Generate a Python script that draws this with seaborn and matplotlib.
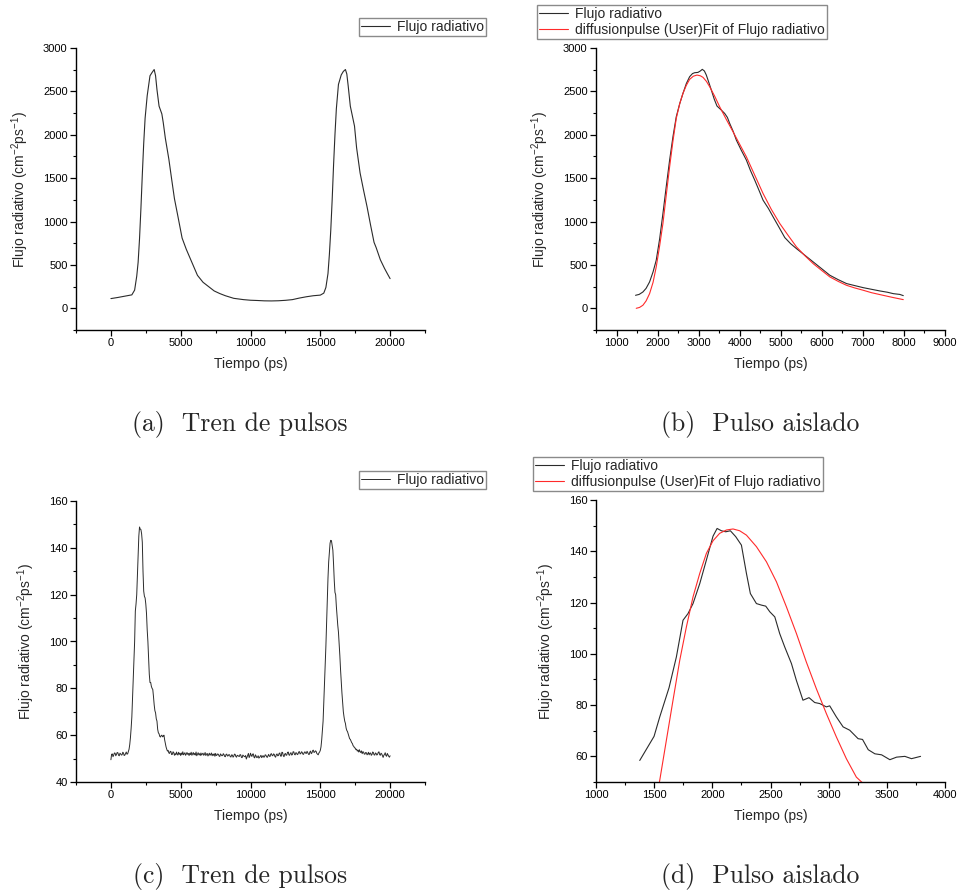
import matplotlib
matplotlib.use("Agg")
import numpy as np
import pandas as pd
import matplotlib.pyplot as plt
import seaborn as sns
from matplotlib.ticker import MultipleLocator

# ---------------- data ----------------
# (a) pulse train, full simulation
a_t = [0, 500, 1000, 1500, 1700, 1850, 1950, 2050, 2150, 2250, 2350, 2450, 2600,
       2800, 2950, 3100, 3200, 3300, 3450, 3650, 3750, 3900, 4150, 4350, 4550,
       4800, 5100, 5400, 5800, 6200, 6600, 7000, 7400, 7800, 8200, 8800, 9500,
       10000, 10500, 11000, 11500, 12000, 12500, 13000, 13500, 14000, 14500,
       15000, 15250, 15400, 15550, 15650, 15750, 15850, 15950, 16050, 16150,
       16300, 16500, 16650, 16800, 16900, 17000, 17150, 17450, 17600, 17850,
       18100, 18350, 18600, 18850, 19000, 19300, 19600, 19800, 20000]
a_flux = [112, 125, 140, 155, 210, 370, 530, 800, 1150, 1540, 1900, 2190, 2450,
          2680, 2718, 2752, 2680, 2520, 2330, 2240, 2140, 1960, 1720, 1490, 1265,
          1060, 810, 680, 530, 380, 300, 250, 200, 170, 145, 115, 100,
          93, 90, 86, 85, 87, 92, 100, 118, 133, 145,
          152, 175, 240, 400, 620, 900, 1250, 1650, 2000, 2300,
          2580, 2690, 2730, 2752, 2700, 2560, 2330, 2100, 1850, 1560,
          1360, 1170, 960, 760, 700, 560, 460, 400, 342]

# (b) isolated pulse + fit
b_t = [1463, 1550, 1642, 1720, 1805, 1890, 1967, 2050, 2130, 2210, 2293, 2375,
       2455, 2540, 2618, 2700, 2780, 2850, 2902, 2984, 3040, 3089, 3140, 3187,
       3250, 3309, 3380, 3447, 3540, 3634, 3700, 3756, 3840, 3919, 4040, 4163,
       4260, 4366, 4470, 4569, 4700, 4813, 4950, 5098, 5240, 5382, 5590, 5789,
       6000, 6195, 6400, 6602, 6800, 7008, 7200, 7415, 7600, 7740, 7900, 7984]
b_flux = [150, 160, 188, 230, 304, 420, 554, 800, 1092, 1400, 1708, 1980,
          2208, 2360, 2477, 2590, 2669, 2705, 2715, 2719, 2735, 2754, 2735, 2688,
          2600, 2515, 2410, 2331, 2290, 2246, 2200, 2131, 2040, 1938, 1820, 1708,
          1590, 1477, 1360, 1246, 1150, 1054, 940, 815, 745, 688, 610, 535,
          455, 381, 330, 285, 262, 238, 220, 200, 185, 169, 160, 146]
fit_b_t = [1480, 1560, 1642, 1720, 1805, 1890, 1967, 2050, 2130, 2210, 2293, 2375,
           2455, 2540, 2618, 2700, 2780, 2870, 2959, 3040, 3106, 3190, 3268, 3390,
           3512, 3670, 3837, 4000, 4163, 4370, 4569, 4770, 4976, 5180, 5382, 5590,
           5789, 6000, 6195, 6400, 6602, 6800, 7008, 7210, 7415, 7700, 7984]
fit_b_flux = [0, 10, 35, 85, 169, 300, 477, 720, 977, 1300, 1631, 1930,
              2189, 2360, 2477, 2570, 2638, 2675, 2688, 2680, 2662, 2615, 2554, 2445,
              2323, 2180, 2035, 1890, 1746, 1530, 1323, 1140, 977, 840, 708, 605,
              515, 435, 362, 310, 265, 235, 208, 180, 158, 128, 100]

# (c) pulse train, second run (50 ps sampling)
c_t = list(range(0, 20001, 50))
c_flux = [
    # 0 - 1300
    49.5, 51.8, 52.0, 50.8, 51.5, 52.4, 52.3, 51.2, 51.8, 52.6,
    52.5, 51.4, 51.2, 52.3, 52.0, 51.5, 51.6, 52.7, 52.4, 51.3,
    51.5, 52.2, 52.8, 51.9, 52.0, 53.0, 54.0,
    # 1350 - 4450 (first pulse)
    56.0, 59.0, 63.0, 67.8, 75.5, 83.0, 92.0, 100.0, 113.0, 116.0,
    120.0, 128.0, 136.6, 145.0, 148.9, 148.0, 147.8, 146.0, 142.4, 130.0,
    121.5, 119.3, 118.6, 116.0, 112.0, 105.0, 100.0, 93.0, 86.0, 82.5,
    82.5, 80.8, 80.0, 79.5, 76.5, 73.0, 70.5, 69.5, 67.0, 66.0,
    62.5, 61.0, 60.6, 59.5, 59.2, 59.8, 60.0, 59.3, 59.6, 60.0,
    58.0, 56.5, 55.0, 54.0, 53.2, 53.5, 52.4, 52.2, 53.1, 53.0,
    51.7, 51.8, 52.9,
    # 4500 - 14950 (baseline)
    52.6, 51.4, 52.1, 51.6, 52.8, 51.9, 51.5, 52.7, 51.8, 52.3,
    51.3, 52.4, 51.7, 52.9, 51.6, 52.0, 52.5, 51.4, 51.9, 52.6,
    51.8, 52.2, 51.3, 52.3, 51.7, 52.7, 51.4, 52.0, 52.6, 51.6,
    52.2, 51.5, 52.8, 51.2, 51.9, 52.5, 51.6, 52.1, 51.3, 52.4,
    51.5, 52.0, 52.3, 51.4, 51.8, 52.6, 51.3, 51.9, 52.2, 51.1,
    51.6, 52.3, 51.4, 51.8, 52.4, 51.2, 51.9, 51.4, 52.1, 51.0,
    52.2, 51.3, 51.5, 52.0, 51.8, 51.1, 50.9, 52.0, 51.6, 51.2,
    51.3, 52.1, 51.7, 50.9, 50.8, 51.8, 51.9, 51.1, 51.2, 51.7,
    51.6, 50.8, 50.7, 51.6, 51.5, 50.6, 51.0, 51.9, 51.8, 50.9,
    50.6, 51.4, 51.3, 51.0, 50.9, 51.7, 51.6, 50.5, 50.4, 51.5,
    51.2, 50.9, 50.8, 51.3, 49.8, 50.6, 51.5, 52.2, 50.5, 51.0,
    52.3, 51.4, 50.9, 51.9, 52.0, 50.6, 50.3, 51.6, 51.1, 50.4,
    50.6, 51.2, 50.2, 50.5, 51.0, 51.4, 50.4, 50.8, 51.3, 50.6,
    50.7, 51.6, 51.5, 50.8, 50.5, 51.2, 51.8, 51.0, 50.9, 51.9,
    52.1, 51.3, 51.2, 52.0, 51.8, 50.9, 50.6, 51.7, 52.0, 51.2,
    51.3, 52.2, 52.4, 51.1, 51.0, 52.7, 52.6, 51.2, 50.8, 51.9,
    52.2, 51.4, 51.5, 52.6, 52.8, 51.6, 51.4, 52.3, 52.5, 51.5,
    51.7, 52.9, 52.9, 51.8, 51.6, 52.5, 52.4, 51.7, 51.9, 52.8,
    53.0, 52.0, 52.1, 52.9, 52.7, 51.9, 51.8, 52.6, 52.9, 52.3,
    52.2, 53.1, 52.6, 51.9, 51.7, 52.8, 53.2, 52.1, 52.4, 53.4,
    53.6, 52.6, 52.8, 53.3, 53.1, 52.2, 51.9, 51.6, 52.4, 52.8,
    # 15000 - 17450 (second pulse)
    53.5, 55.0, 58.0, 62.0, 66.0, 74.0, 82.0, 90.0, 98.0, 108.0,
    118.0, 127.0, 134.0, 138.0, 142.0, 143.2, 143.0, 141.0, 139.0, 133.0,
    126.0, 121.0, 120.0, 115.0, 111.0, 107.0, 104.0, 99.0, 94.0, 88.0,
    83.0, 78.0, 74.0, 70.0, 67.8, 66.0, 65.0, 63.0, 62.0, 61.5,
    60.5, 59.5, 58.5, 58.2, 57.5, 56.8, 56.4, 55.5, 55.2, 54.6,
    # 17500 - 20000
    54.5, 53.8, 54.0, 53.2, 53.6, 52.8, 53.8, 52.9, 52.6, 53.3,
    52.1, 52.9, 52.8, 51.9, 51.9, 52.6, 52.5, 51.6, 52.0, 52.7,
    51.6, 52.3, 52.4, 51.4, 51.7, 52.8, 52.6, 51.6, 51.5, 52.4,
    52.2, 51.5, 51.8, 52.6, 52.9, 51.7, 51.4, 52.3, 52.0, 51.2,
    50.5, 51.4, 51.8, 52.5, 51.3, 51.0, 52.2, 51.6, 51.0, 50.6,
    51.2]

# (d) isolated pulse + fit
d_t = [1376, 1499, 1548, 1628, 1691, 1748, 1791, 1834, 1892, 1949, 2006, 2041,
       2078, 2115, 2155, 2201, 2250, 2293, 2327, 2379, 2422, 2459, 2494, 2537,
       2579, 2622, 2680, 2722, 2779, 2831, 2880, 2923, 2980, 3009, 3066, 3124,
       3181, 3253, 3291, 3340, 3397, 3455, 3526, 3584, 3655, 3712, 3790]
d_flux = [58.4, 67.8, 75.4, 86.8, 98.8, 113.1, 115.7, 119.6, 127.4, 136.6, 145.9, 148.9,
          148.0, 147.6, 148.0, 145.7, 142.4, 131.4, 123.5, 119.6, 119.0, 118.6, 116.4, 114.4,
          107.9, 102.7, 96.2, 89.7, 81.9, 82.9, 81.0, 80.6, 79.3, 79.7, 75.4, 71.5,
          70.2, 66.9, 66.6, 62.6, 61.0, 60.6, 58.7, 59.7, 60.0, 59.1, 60.0]
fit_d_t = [1540, 1605, 1662, 1720, 1777, 1834, 1892, 1949, 2006, 2063, 2121, 2178,
           2235, 2293, 2379, 2465, 2551, 2637, 2723, 2808, 2894, 2980, 3066, 3152,
           3238, 3330]
fit_d_flux = [48.5, 66.3, 81.9, 97.5, 110.5, 122.2, 131.4, 139.2, 144.1, 147.0, 148.3, 148.7,
              148.0, 146.3, 141.8, 135.9, 128.1, 118.3, 107.9, 96.8, 86.4, 76.7, 67.6, 59.1,
              51.9, 48.0]

captions = ["(a)  Tren de pulsos", "(b)  Pulso aislado",
            "(c)  Tren de pulsos", "(d)  Pulso aislado"]
lbl_data = "Flujo radiativo"
lbl_fit = "diffusionpulse (User)Fit of Flujo radiativo"

# ---------------- style ----------------
sns.set_style("ticks")
plt.rcParams["font.family"] = ["Liberation Sans", "DejaVu Sans"]
plt.rcParams["mathtext.fontset"] = "custom"
plt.rcParams["mathtext.rm"] = "Liberation Sans"
plt.rcParams["mathtext.it"] = "Liberation Sans:italic"
plt.rcParams["mathtext.default"] = "regular"

DATA_C = "#2b2b2b"
FIT_C = "#ff2a2a"
W, H = 957, 892

fig = plt.figure(figsize=(W / 100, H / 100), dpi=100)


def box(l, t, r, b):
    return [l / W, 1 - b / H, (r - l) / W, (b - t) / H]


axes = [fig.add_axes(box(76, 48, 425, 330)),
        fig.add_axes(box(596, 48, 945, 330)),
        fig.add_axes(box(76, 501, 425, 782)),
        fig.add_axes(box(596, 500, 945, 782))]

sns.lineplot(x=a_t, y=a_flux, ax=axes[0], color=DATA_C, lw=0.8, label=lbl_data)
sns.lineplot(x=b_t, y=b_flux, ax=axes[1], color=DATA_C, lw=0.8, label=lbl_data)
sns.lineplot(x=fit_b_t, y=fit_b_flux, ax=axes[1], color=FIT_C, lw=0.8, label=lbl_fit)
sns.lineplot(x=c_t, y=c_flux, ax=axes[2], color=DATA_C, lw=0.7, label=lbl_data)
sns.lineplot(x=d_t, y=d_flux, ax=axes[3], color=DATA_C, lw=0.8, label=lbl_data)
sns.lineplot(x=fit_d_t, y=fit_d_flux, ax=axes[3], color=FIT_C, lw=0.8, label=lbl_fit)

limits = [((-2500, 22500), (-250, 3000), 5000, 2500, 500, 250),
          ((500, 9000), (-250, 3000), 1000, 500, 500, 250),
          ((-2500, 22500), (40, 160), 5000, 2500, 20, 10),
          ((1000, 4000), (50, 160), 500, 250, 20, 10)]

for ax, (xl, yl, xM, xm, yM, ym) in zip(axes, limits):
    ax.set_xlim(*xl)
    ax.set_ylim(*yl)
    ax.xaxis.set_major_locator(MultipleLocator(xM))
    ax.xaxis.set_minor_locator(MultipleLocator(xm))
    ax.yaxis.set_major_locator(MultipleLocator(yM))
    ax.yaxis.set_minor_locator(MultipleLocator(ym))
    sns.despine(ax=ax)
    for s in ("left", "bottom"):
        ax.spines[s].set_linewidth(1.0)
        ax.spines[s].set_color("black")
    ax.tick_params(which="major", direction="out", length=4, width=0.9,
                   labelsize=8, colors="black", pad=2)
    ax.tick_params(which="minor", direction="out", length=2.5, width=0.8, colors="black")
    ax.set_xlabel("Tiempo (ps)", fontsize=10, labelpad=6)
    ax.set_ylabel("Flujo radiativo (cm$^{-2}$ps$^{-1}$)", fontsize=10, labelpad=9)
    if ax.get_legend() is not None:
        ax.get_legend().remove()

leg_pos = [(359, 18), (537, 5), (359, 471), (533, 457)]
for ax, (lx, ly) in zip(axes, leg_pos):
    handles, labels = ax.get_legend_handles_labels()
    leg = fig.legend(handles, labels, loc="upper left",
                     bbox_to_anchor=(lx / W, 1 - ly / H),
                     bbox_transform=fig.transFigure, borderaxespad=0,
                     frameon=True, fancybox=False, shadow=False,
                     fontsize=10, handlelength=2.1, handletextpad=0.5,
                     borderpad=0.15, labelspacing=0.15)
    fr = leg.get_frame()
    fr.set_edgecolor("#8a8a8a")
    fr.set_linewidth(1.0)
    fr.set_facecolor("white")
    fr.set_alpha(1)

cap_pos = [(240, 424), (760, 424), (240, 877), (760, 877)]
for (cx, cy), txt in zip(cap_pos, captions):
    fig.text(cx / W, 1 - cy / H, txt, ha="center", va="center",
             fontsize=18.5, family=["cmr10", "DejaVu Serif"])

fig.savefig("out.png", dpi=100)
